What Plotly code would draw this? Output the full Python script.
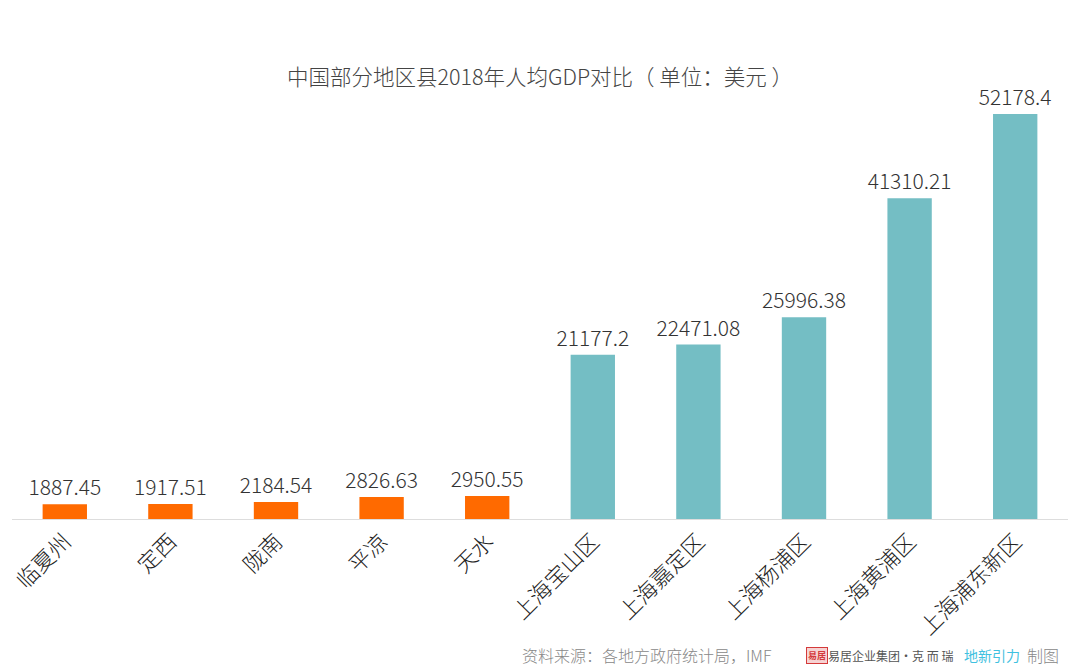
import plotly.graph_objects as go

categories = ["临夏州", "定西", "陇南", "平凉", "天水", "上海宝山区", "上海嘉定区", "上海杨浦区", "上海黄浦区", "上海浦东新区"]
values = [1887.45, 1917.51, 2184.54, 2826.63, 2950.55, 21177.2, 22471.08, 25996.38, 41310.21, 52178.4]
labels = ["1887.45", "1917.51", "2184.54", "2826.63", "2950.55", "21177.2", "22471.08", "25996.38", "41310.21", "52178.4"]
colors = ["#FF6A00"] * 5 + ["#74BEC4"] * 5

font_family = "Noto Sans CJK SC, Noto Sans, sans-serif"

L, R, T, B = 12, 12, 80, 150
W = 1080 - L - R
H = 669 - T - B

fig = go.Figure(go.Bar(
    x=categories, y=values, text=labels, textposition="outside",
    constraintext="none",
    marker=dict(color=colors, line=dict(width=0)),
    textfont=dict(size=21, color="#333333", family=font_family, weight=300),
    cliponaxis=False,
))

fig.update_layout(
    width=1080, height=669,
    margin=dict(l=L, r=R, t=T, b=B, autoexpand=False),
    paper_bgcolor="white", plot_bgcolor="white",
    bargap=0.58,
    showlegend=False,
    font=dict(family=font_family),
    title=dict(text="中国部分地区县2018年人均GDP对比（ 单位：美元 ）", x=0.5, xanchor="center",
               y=1 - 77 / 669, yanchor="middle", font=dict(size=21.5, color="#444444", weight=300)),
    xaxis=dict(tickangle=-45, tickfont=dict(size=22, color="#222222", weight=300), showline=True,
               linecolor="#DDDDDD", linewidth=1, ticks="", showgrid=False, automargin=False),
    yaxis=dict(range=[0, 56560], visible=False, showgrid=False, zeroline=False),
)

fy = -(655 - 519) / H


def px(x):
    return (x - L) / W


fig.add_annotation(text="资料来源：各地方政府统计局，IMF", xref="paper", yref="paper",
                   x=px(520), y=fy, xanchor="left", yanchor="middle",
                   showarrow=False, font=dict(size=16, color="#888888", weight=300))
fig.add_annotation(text="<b>易居</b>", xref="paper", yref="paper",
                   x=px(806), y=fy, xanchor="left", yanchor="middle",
                   showarrow=False, font=dict(size=9, color="#D43A3A"), bgcolor="#F6D3D3",
                   bordercolor="#D43A3A", borderwidth=1, borderpad=1)
fig.add_annotation(text="易居企业集团·克 而 瑞", xref="paper", yref="paper",
                   x=px(826), y=fy, xanchor="left", yanchor="middle",
                   showarrow=False, font=dict(size=12, color="#555555"))
fig.add_annotation(text="地新引力", xref="paper", yref="paper",
                   x=px(962), y=fy, xanchor="left", yanchor="middle",
                   showarrow=False, font=dict(size=14, color="#3FC1E0"))
fig.add_annotation(text="制图", xref="paper", yref="paper",
                   x=px(1025), y=fy, xanchor="left", yanchor="middle",
                   showarrow=False, font=dict(size=16, color="#888888", weight=300))

fig.write_html("out.html")
